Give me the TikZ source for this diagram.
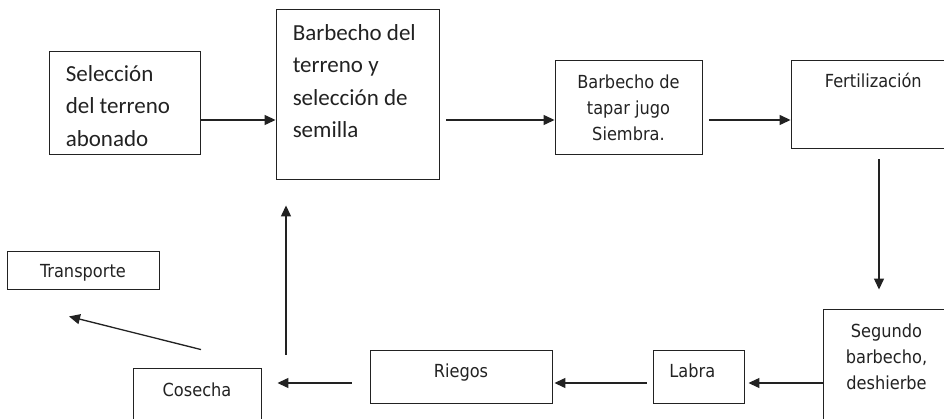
\documentclass[tikz,border=0pt]{standalone}
\usepackage{fontspec}
\setmainfont{Carlito}
\newfontfamily\tahomafont{DejaVu Sans Condensed}
\usetikzlibrary{arrows.meta,positioning}
\definecolor{ink}{HTML}{222222}
\tikzset{box/.style={draw=ink,line width=0.9pt,inner sep=0pt},
 cal/.style={font=\fontsize{23}{32.5}\selectfont,text=ink,inner sep=0pt,align=left},
 tah/.style={font=\tahomafont\fontsize{18}{26}\selectfont,text=ink,inner sep=0pt,align=center},
 arr/.style={draw=ink,line width=1.3pt,-{Triangle[length=11pt,width=10pt]}},
 }

\begin{document}
\begin{tikzpicture}[x=1pt,y=-1pt]
        \clip (0,0) rectangle (944,419);
        % cajas
        \node[box,minimum width=151pt,minimum height=103pt] (sel) at (124.5,102.5) {};
        \node[box,minimum width=163pt,minimum height=170pt] (barb) at (357.5,94) {};
        \node[box,minimum width=147pt,minimum height=94pt] (tapar) at (628.5,107) {};
        \node[box,minimum width=164.6pt,minimum height=88pt] (fert) at (873.3,104) {};
        \node[box,minimum width=127pt,minimum height=131pt] (seg) at (886.5,374.5) {};
        \node[box,minimum width=91pt,minimum height=53pt] (labra) at (698.5,376.5) {};
        \node[box,minimum width=182pt,minimum height=53pt] (riegos) at (461,376.5) {};
        \node[box,minimum width=128pt,minimum height=72pt] (cos) at (197,404) {};
        \node[box,minimum width=152pt,minimum height=38pt] (trans) at (83,270) {};
        % textos
        \node[cal,below right=14.6pt and 17pt of sel.north west] (selT) {Selección\\del terreno\\abonado};
        \node[cal,below right=15.6pt and 17pt of barb.north west] (barbT) {Barbecho del\\terreno y\\selección de\\semilla};
        \node[tah,below=15.3pt of tapar.north,anchor=north] (taparT) {Barbecho de\\tapar jugo\\Siembra.};
        \node[tah,anchor=base] (fertT) at ([yshift=-28pt]fert.north) {Fertilización};
        \node[tah,below=15pt of seg.north,anchor=north] (segT) {Segundo\\barbecho,\\deshierbe};
        \node[tah,anchor=base] (labraT) at ([shift={(-6.2pt,-27.7pt)}]labra.north) {Labra};
        \node[tah,anchor=base] (riegosT) at ([yshift=-27.7pt]riegos.north) {Riegos};
        \node[tah,anchor=base] (cosT) at ([yshift=-28.7pt]cos.north) {Cosecha};
        \node[tah,anchor=base] (transT) at ([yshift=-27.3pt]trans.north) {Transporte};
        % flechas
        \coordinate (filaA) at (0,120);
        \coordinate (filaB) at (0,383);
        \coordinate (colA) at (879,0);
        \coordinate (colB) at (286,0);
        \draw[arr] (sel.east |- filaA) -- (barb.west |- filaA);
        \draw[arr] ([xshift=7pt]barb.east |- filaA) -- (tapar.west |- filaA);
        \draw[arr] ([xshift=7pt]tapar.east |- filaA) -- (fert.west |- filaA);
        \draw[arr] ([yshift=-11pt]fert.south -| colA) -- ([yshift=19pt]seg.north -| colA);
        \draw[arr] (seg.west |- filaB) -- ([xshift=4pt]labra.east |- filaB);
        \draw[arr] ([xshift=-6pt]labra.west |- filaB) -- ([xshift=2pt]riegos.east |- filaB);
        \draw[arr] ([xshift=-18pt]riegos.west |- filaB) -- ([xshift=16pt]cos.east |- filaB);
        \draw[arr] ([yshift=13pt]cos.north -| colB) -- ([yshift=-26pt]barb.south -| colB);
        \draw[arr] ([shift={(4pt,18pt)}]cos.north) -- ([shift={(-14pt,-27pt)}]trans.south);
    \end{tikzpicture}
\end{document}
